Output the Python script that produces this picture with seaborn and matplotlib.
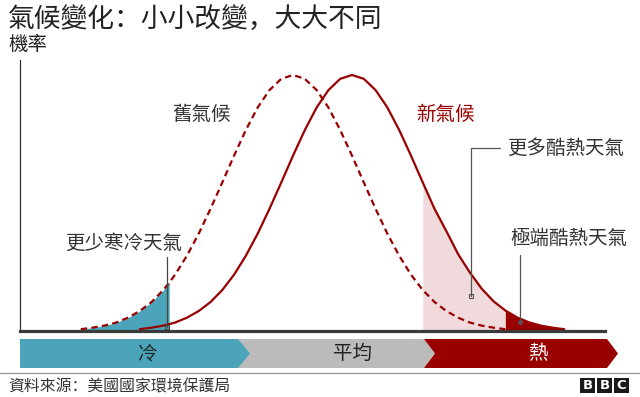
import matplotlib
matplotlib.use("Agg")
import matplotlib.pyplot as plt
import seaborn as sns
from matplotlib.patches import Polygon, Rectangle

# Chart data: probability curves
old_x = [10, 12, 14, 16, 18, 20, 22, 24, 25, 26, 28, 30, 32, 34, 36, 38, 40, 42,
         44, 46, 48, 50, 52, 54, 56, 58, 60, 62, 64, 66, 68, 70, 72, 74, 76, 78,
         80, 82]
old_y = [0.007, 0.013, 0.021, 0.033, 0.052, 0.078, 0.113, 0.160, 0.189, 0.220,
         0.294, 0.380, 0.477, 0.580, 0.685, 0.785, 0.873, 0.941, 0.985, 1.000,
         0.985, 0.941, 0.873, 0.785, 0.685, 0.580, 0.477, 0.380, 0.294, 0.220,
         0.160, 0.113, 0.078, 0.052, 0.033, 0.021, 0.013, 0.007]
new_x = [20, 22, 24, 26, 28, 30, 32, 34, 36, 38, 40, 42, 44, 46, 48, 50, 52, 54,
         56, 58, 60, 62, 64, 66, 68, 70, 72, 74, 76, 78, 80, 82, 84, 86, 88, 90,
         92]
new_y = [0.007, 0.013, 0.021, 0.033, 0.052, 0.078, 0.113, 0.160, 0.220, 0.294,
         0.380, 0.477, 0.580, 0.685, 0.785, 0.873, 0.941, 0.985, 1.000, 0.985,
         0.941, 0.873, 0.785, 0.685, 0.580, 0.477, 0.390, 0.300, 0.228, 0.165,
         0.116, 0.080, 0.053, 0.034, 0.021, 0.013, 0.007]
cold_limit = 25
hot_limit = 68
extreme_limit = 82

title = "氣候變化：小小改變，大大不同"
y_label = "機率"
old_label = "舊氣候"
new_label = "新氣候"
note_cold = "更少寒冷天氣"
note_hot = "更多酷熱天氣"
note_extreme = "極端酷熱天氣"
band_labels = ["冷", "平均", "熱"]
source = "資料來源：美國國家環境保護局"

RED = "#990000"
BLUE = "#4ba4b9"
PINK = "#f0dadb"
GREY = "#bbbbbb"
TEXT = "#333333"

sns.set_theme(style="white")
plt.rcParams['font.family'] = ['Noto Sans CJK TC', 'DejaVu Sans']
# SC face puts the full-width colon and comma at the left, like the original
PUNCT_FONT = ['Noto Sans CJK SC', 'DejaVu Sans']

fig = plt.figure(figsize=(6.4, 3.97), dpi=100)
ax = fig.add_axes([20 / 640, 66 / 397, 585 / 640, 271 / 397])

# Shaded tails
cold = [(x, y) for x, y in zip(old_x, old_y) if x <= cold_limit]
ax.fill_between([p[0] for p in cold], [p[1] for p in cold], color=BLUE, lw=0)
hot = [(x, y) for x, y in zip(new_x, new_y) if hot_limit <= x <= extreme_limit]
ax.fill_between([p[0] for p in hot], [p[1] for p in hot], color=PINK, lw=0)
ext = [(x, y) for x, y in zip(new_x, new_y) if x >= extreme_limit]
ax.fill_between([p[0] for p in ext], [p[1] for p in ext], color=RED, lw=0)

# Curves
sns.lineplot(x=old_x, y=old_y, ax=ax, color=RED, lw=1.6,
             linestyle=(0, (2.9, 1.9)))
sns.lineplot(x=new_x, y=new_y, ax=ax, color=RED, lw=1.6)

ax.set_xlim(-0.3, 98.9)
ax.set_ylim(0, 271 / 256)
ax.set_xticks([])
ax.set_yticks([])
sns.despine(ax=ax)
ax.spines['bottom'].set_linewidth(2.3)
ax.spines['bottom'].set_color('#3a3a3a')
ax.spines['left'].set_linewidth(0.9)
ax.spines['left'].set_color('#333333')

# Pixel overlay for labels, band and footer
ov = fig.add_axes([0, 0, 1, 1])
ov.set_xlim(0, 640)
ov.set_ylim(397, 0)
ov.axis('off')
ov.patch.set_visible(False)

ov.text(8, 20, title, fontsize=19.3, color="#222222", va='center',
        family=PUNCT_FONT)
ov.text(8, 44, y_label, fontsize=14, color="#222222", va='center')
ov.text(172, 114, old_label, fontsize=14, color=TEXT, va='center')
ov.text(416, 114, new_label, fontsize=14, color=RED, va='center')
ov.text(507, 148, note_hot, fontsize=14, color=TEXT, va='center')
ov.text(510, 238, note_extreme, fontsize=14, color=TEXT, va='center')
ov.text(65, 243, note_cold, fontsize=14, color=TEXT, va='center')

# Leader lines
ov.plot([500, 471, 471], [148, 148, 296], color='#555555', lw=0.9)
ov.plot([471], [296], marker='s', ms=3, mfc='none', mec='#555555', mew=0.8)
ov.plot([520, 520], [255, 322], color='#555555', lw=0.9)
ov.plot([520], [322], marker='o', ms=2.5, color='#555555')
ov.plot([166.5, 166.5], [257, 327], color='#444444', lw=0.9)
ov.plot([166.5], [327], marker='s', ms=3, mfc='none', mec='#444444', mew=0.8)

# Temperature band
top, bot, mid = 339, 368, 353.5
ov.add_patch(Polygon([(230, top), (424, top), (435, mid), (424, bot), (230, bot)],
                     closed=True, color=GREY, lw=0))
ov.add_patch(Polygon([(20, top), (238, top), (250, mid), (238, bot), (20, bot)],
                     closed=True, color=BLUE, lw=0))
ov.add_patch(Polygon([(424, top), (607, top), (618, mid), (607, bot), (424, bot),
                      (435, mid)], closed=True, color=RED, lw=0))
ov.text(148, mid, band_labels[0], fontsize=14, color="#222222", ha='center', va='center')
ov.text(353, mid, band_labels[1], fontsize=14, color="#222222", ha='center', va='center')
ov.text(538, mid, band_labels[2], fontsize=14, color="white", ha='center', va='center')

# Footer
ov.plot([0, 640], [373, 373], color='#999999', lw=1)
ov.text(8, 387, source, fontsize=11.4, color=TEXT, va='center', family=PUNCT_FONT)
for i, letter in enumerate("BBC"):
    x0 = 580 + i * 17
    ov.add_patch(Rectangle((x0, 378), 15, 15, color='#1a1a1a', lw=0))
    ov.text(x0 + 7.5, 385.8, letter, fontsize=9.5, color='white', ha='center',
            va='center', family='DejaVu Sans', weight='bold')

fig.savefig("out.png", dpi=100)
